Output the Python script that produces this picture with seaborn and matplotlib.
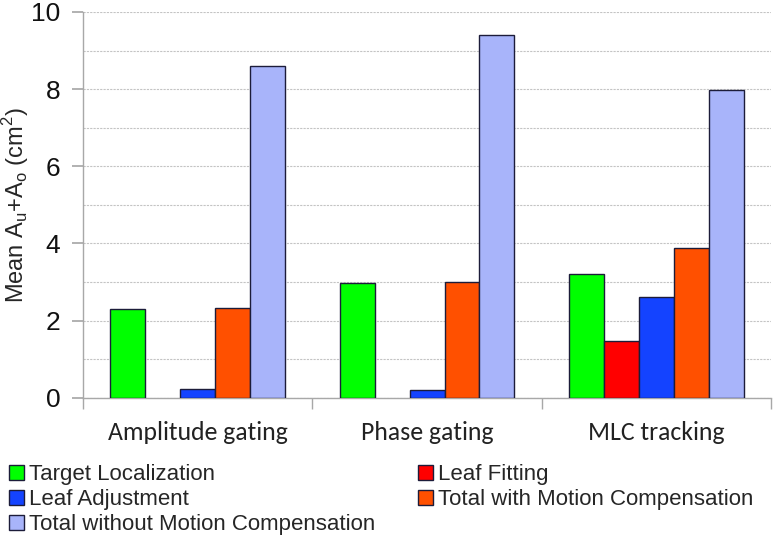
import matplotlib

matplotlib.use("Agg")
import matplotlib.pyplot as plt
import numpy as np
import pandas as pd
import seaborn as sns
from matplotlib.patches import Patch
from matplotlib.ticker import MultipleLocator, FixedLocator

sns.set_theme(style="white")
plt.rcParams["font.family"] = ["Liberation Sans", "DejaVu Sans"]

techniques = ["Amplitude gating", "Phase gating", "MLC tracking"]
components = [
    "Target Localization",
    "Leaf Fitting",
    "Leaf Adjustment",
    "Total with Motion Compensation",
    "Total without Motion Compensation",
]
target_localization = [2.30, 2.98, 3.21]
leaf_fitting = [np.nan, np.nan, 1.48]
leaf_adjustment = [0.23, 0.20, 2.62]
total_with = [2.34, 3.00, 3.87]
total_without = [8.61, 9.39, 7.98]

colors = ["#00FF00", "#FF0000", "#1443FF", "#FF5000", "#A8B4FA"]

series = [target_localization, leaf_fitting, leaf_adjustment, total_with, total_without]
rows = []
for comp, vals in zip(components, series):
    for tech, v in zip(techniques, vals):
        rows.append({"technique": tech, "component": comp, "value": v})
df = pd.DataFrame(rows).dropna()

calibri_like = ["Carlito", "Lato", "DejaVu Sans"]

fig = plt.figure(figsize=(7.73, 5.42), dpi=100)
ax = fig.add_axes([0.107, 0.266, 0.891, 0.712])

sns.barplot(
    data=df, x="technique", y="value", hue="component",
    order=techniques, hue_order=components, palette=colors, saturation=1,
    width=0.76, edgecolor="#1c1c3a", linewidth=1.0, errorbar=None,
    legend=False, ax=ax, zorder=3,
)

ax.set_ylim(0, 10)
ax.set_xlim(-0.5, 2.5)
ax.yaxis.set_major_locator(MultipleLocator(2))
ax.yaxis.set_minor_locator(MultipleLocator(1))
ax.grid(axis="y", which="both", color="#c4c4c4", linestyle=(0, (2, 1)), linewidth=0.8, zorder=0)
ax.set_axisbelow(True)

for side in ["top", "right"]:
    ax.spines[side].set_visible(False)
for side in ["left", "bottom"]:
    ax.spines[side].set_color("#a8a8a8")
    ax.spines[side].set_linewidth(1.0)

ax.tick_params(axis="y", which="major", length=8, color="#a8a8a8", labelsize=19, pad=8, direction="out", left=True)
ax.tick_params(axis="y", which="minor", length=0)
ax.xaxis.set_minor_locator(FixedLocator([-0.5, 0.5, 1.5, 2.5]))
ax.tick_params(axis="x", which="minor", length=8, color="#a8a8a8", direction="out", bottom=True)
ax.tick_params(axis="x", which="major", length=0, pad=17)
for lbl in ax.get_xticklabels():
    lbl.set_fontfamily(calibri_like)
    lbl.set_fontsize(18.5)
    lbl.set_color("#222222")
for lbl in ax.get_yticklabels():
    lbl.set_color("#111111")

ax.set_xlabel("")
ax.set_ylabel(r"Mean A$_\mathregular{u}$+A$_\mathregular{o}$ (cm$^\mathregular{2}$)", fontsize=17)
ax.yaxis.set_label_coords(-0.075, 0.5)

handles = [Patch(facecolor=c, edgecolor="#1c1c3a", linewidth=1.0) for c in colors]
legend_kw = dict(
    loc="upper left", frameon=False, prop={"size": 16},
    handlelength=0.68, handleheight=0.68, handletextpad=0.2,
    labelspacing=0.18, borderaxespad=0, borderpad=0,
)
fig.legend([handles[i] for i in [0, 2, 4]], [components[i] for i in [0, 2, 4]],
           bbox_to_anchor=(0.012, 0.144), **legend_kw)
fig.legend([handles[i] for i in [1, 3]], [components[i] for i in [1, 3]],
           bbox_to_anchor=(0.541, 0.144), **legend_kw)

fig.savefig("out.png", dpi=100)
